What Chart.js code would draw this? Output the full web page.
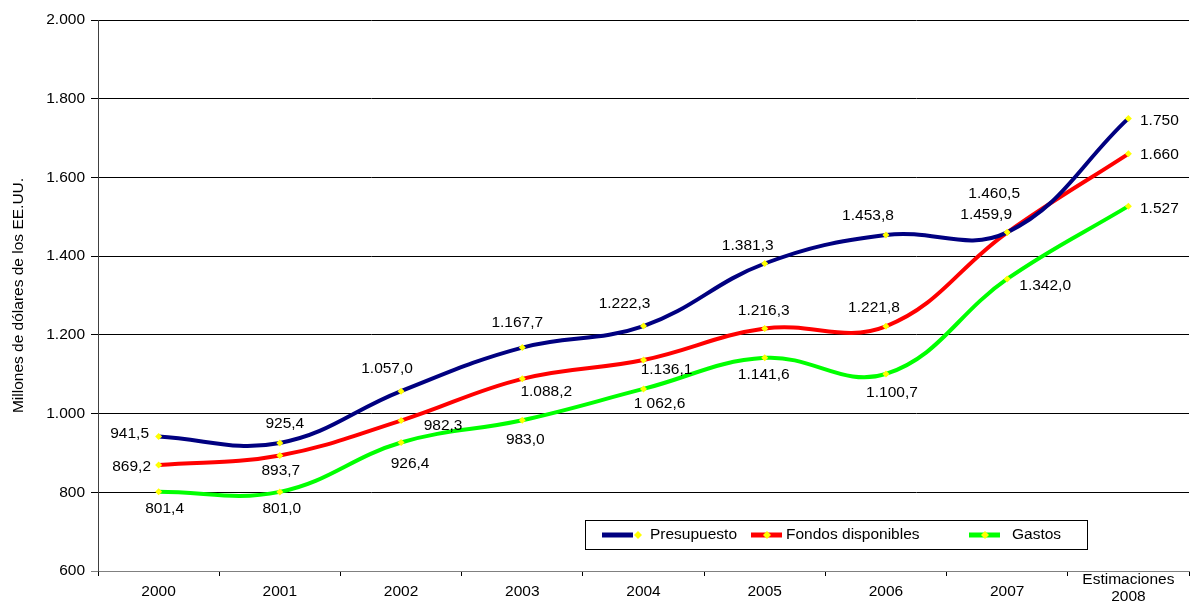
<!DOCTYPE html>
<html lang="es">
    <head>
        <meta charset="UTF-8" />
        <title>Presupuesto, fondos disponibles y gastos</title>
        <script src="https://cdn.jsdelivr.net/npm/chart.js"></script>
        <style>
            body { margin: 0; background: #fff; }
            #wrap { width: 1193px; height: 603px; }
        </style>
    </head>
    <body>
        <div id="wrap"><canvas id="grafico"></canvas></div>

        <script>
            // Datos (millones de dólares de los EE.UU.)
            const anios = ["2000", "2001", "2002", "2003", "2004", "2005", "2006", "2007", "2008"];
            const notaEstimacion = "Estimaciones"; // va sobre el último año
            const presupuesto = [941.5, 925.4, 1057.0, 1167.7, 1222.3, 1381.3, 1453.8, 1460.5, 1750];
            const fondos = [869.2, 893.7, 982.3, 1088.2, 1136.1, 1216.3, 1221.8, 1459.9, 1660];
            const gastos = [801.4, 801.0, 926.4, 983.0, 1062.6, 1141.6, 1100.7, 1342.0, 1527];
            const yMin = 600, yMax = 2000, yPaso = 200;

            // desplazamiento de cada etiqueta respecto a su punto (px)
            const despPresupuesto = [[-29, -3], [5, -19], [-14, -22], [-5, -25], [-19, -22], [-17, -18], [-18, -19], [-13, -39], [31, 2]];
            const despFondos = [[-27, 2], [1, 15], [42, 5], [24, 13], [23, 10], [-1, -18], [-12, -19], [-21, -18], [31, 1]];
            const despGastos = [[6, 17], [2, 17], [9, 21], [3, 19], [16, 15], [-1, 17], [6, 19], [38, 7], [31, 3]];

            const FUENTE = "'Liberation Sans', Arial, sans-serif";
            const TAM = 15.5;

            // 1234.5 -> "1.234,5"
            function formato(v, dec) {
                let s = v.toFixed(dec);
                let partes = s.split(".");
                let ent = partes[0].replace(/\B(?=(\d{3})+(?!\d))/g, ".");
                return partes.length > 1 ? ent + "," + partes[1] : ent;
            }

            function etiqueta(ds, i) {
                let txt = formato(ds.data[i], i === ds.data.length - 1 ? 0 : 1);
                if (ds.label === "Gastos" && i === 4) txt = txt.replace(".", " ");
                return txt;
            }

            const pluginEtiquetas = {
                id: "etiquetas",
                afterDatasetsDraw(chart) {
                    const ctx = chart.ctx;
                    ctx.save();
                    ctx.font = TAM + "px " + FUENTE;
                    ctx.fillStyle = "#000";
                    ctx.textAlign = "center";
                    ctx.textBaseline = "middle";
                    chart.data.datasets.forEach((ds, d) => {
                        const meta = chart.getDatasetMeta(d);
                        meta.data.forEach((p, i) => {
                            const o = ds.desp[i];
                            ctx.fillText(etiqueta(ds, i), p.x + o[0], p.y + o[1]);
                        });
                    });
                    ctx.restore();
                },
                afterDraw(chart) {
                    const ctx = chart.ctx;
                    const xs = chart.scales.x;
                    ctx.save();
                    ctx.font = TAM + "px " + FUENTE;
                    ctx.fillStyle = "#000";
                    ctx.textAlign = "center";
                    ctx.textBaseline = "middle";
                    // etiquetas del eje x
                    anios.forEach((a, i) => {
                        const x = xs.getPixelForValue(i);
                        if (i === anios.length - 1) {
                            ctx.fillText(notaEstimacion, x, xs.top + 9);
                            ctx.fillText(a, x, xs.top + 26);
                        } else {
                            ctx.fillText(a, x, xs.top + 21);
                        }
                    });

                    // leyenda dentro del gráfico
                    const lx = 585, ly = 520, lw = 502, lh = 29;
                    ctx.fillStyle = "#fff";
                    ctx.fillRect(lx, ly, lw, lh);
                    ctx.strokeStyle = "#000";
                    ctx.lineWidth = 1;
                    ctx.strokeRect(lx + 0.5, ly + 0.5, lw, lh);
                    const items = [
                        { x: 602, punto: 638, texto: 650 },
                        { x: 751, punto: 767, texto: 786 },
                        { x: 969, punto: 985, texto: 1012 },
                    ];
                    const cy = ly + 15;
                    chart.data.datasets.forEach((ds, d) => {
                        const it = items[d];
                        ctx.strokeStyle = ds.borderColor;
                        ctx.lineWidth = 5;
                        ctx.beginPath();
                        ctx.moveTo(it.x, cy);
                        ctx.lineTo(it.x + 31, cy);
                        ctx.stroke();
                        ctx.fillStyle = "#ffff00";
                        ctx.beginPath();
                        ctx.moveTo(it.punto, cy - 4);
                        ctx.lineTo(it.punto + 4, cy);
                        ctx.lineTo(it.punto, cy + 4);
                        ctx.lineTo(it.punto - 4, cy);
                        ctx.closePath();
                        ctx.fill();
                        ctx.fillStyle = "#000";
                        ctx.textAlign = "left";
                        ctx.fillText(ds.label, it.texto, cy);
                    });
                    ctx.restore();
                },
            };

            function serie(nombre, datos, color, desp) {
                return {
                    label: nombre,
                    data: datos,
                    desp: desp,
                    borderColor: color,
                    borderWidth: 4,
                    tension: 0.4,
                    fill: false,
                    pointStyle: "rectRot",
                    pointRadius: 3.5,
                    pointBorderWidth: 0,
                    pointBackgroundColor: "#ffff00",
                    pointBorderColor: "#ffff00",
                };
            }

            const ctx = document.getElementById("grafico").getContext("2d");
            const chart = new Chart(ctx, {
                type: "line",
                data: {
                    labels: anios,
                    datasets: [
                        serie("Presupuesto", presupuesto, "#000080", despPresupuesto),
                        serie("Fondos disponibles", fondos, "#ff0000", despFondos),
                        serie("Gastos", gastos, "#00ff00", despGastos),
                    ],
                },
                options: {
                    responsive: true,
                    maintainAspectRatio: false,
                    animation: false,
                    layout: { padding: { top: 20, right: 0, left: 0, bottom: 0 } },
                    plugins: {
                        legend: { display: false },
                        tooltip: { enabled: false },
                    },
                    scales: {
                        x: {
                            offset: true,
                            grid: {
                                offset: true,
                                drawOnChartArea: false,
                                drawTicks: true,
                                tickLength: 5,
                                color: "#000",
                            },
                            border: { color: "#808080", width: 1 },
                            ticks: { display: false },
                            afterFit(scale) {
                                scale.height = 32;
                            },
                        },
                        y: {
                            min: yMin,
                            max: yMax,
                            ticks: {
                                stepSize: yPaso,
                                color: "#000",
                                padding: 6,
                                font: { family: FUENTE, size: TAM },
                                callback: (v) => formato(v, 0),
                            },
                            grid: {
                                color: (c) => (c.tick && c.tick.value === yMin ? "#808080" : "#000"),
                                tickLength: 7,
                            },
                            border: { color: "#404040", width: 1 },
                            title: {
                                display: true,
                                text: "Millones de dólares de los EE.UU.",
                                color: "#000",
                                font: { family: FUENTE, size: 15.5 },
                                padding: { top: 9, bottom: 0 },
                            },
                            afterFit(scale) {
                                scale.width = 98;
                            },
                        },
                    },
                },
                plugins: [pluginEtiquetas],
            });
        </script>
    </body>
</html>
